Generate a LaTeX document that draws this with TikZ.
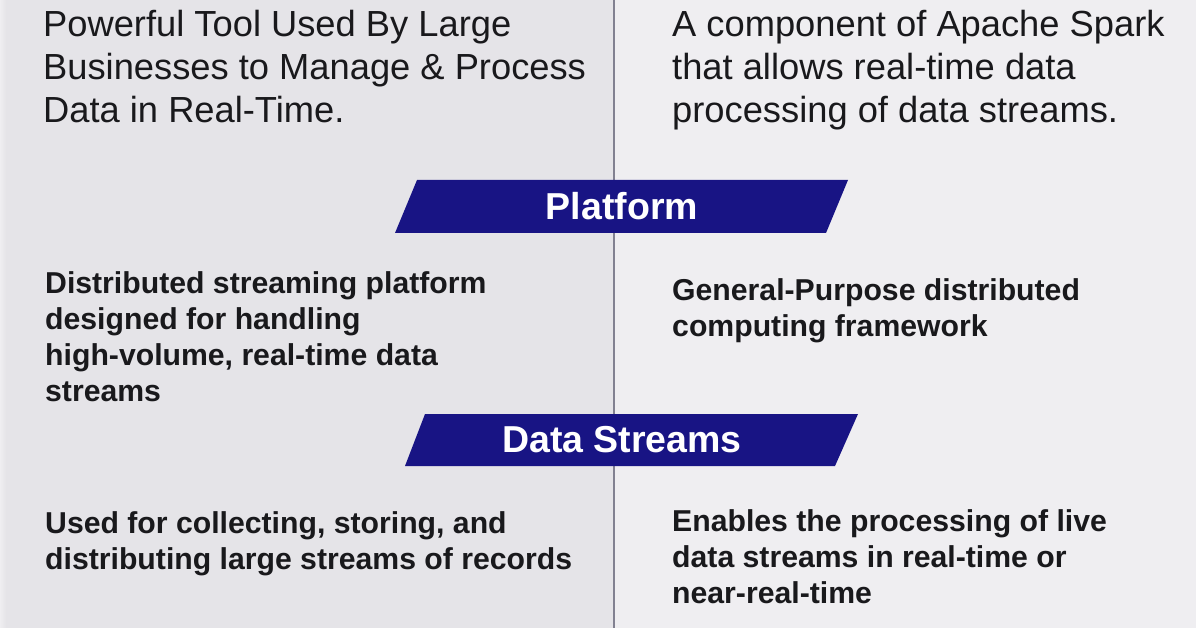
\documentclass[tikz,border=0pt]{standalone}
\usepackage{fontspec}
\setmainfont{Liberation Sans}
\definecolor{navy}{RGB}{24,20,132}
\definecolor{leftbg}{RGB}{229,228,232}
\definecolor{rightbg}{RGB}{239,238,241}
\definecolor{divider}{RGB}{130,129,145}
\definecolor{txt}{RGB}{25,25,28}
\tikzset{
  headtext/.style={anchor=north west, inner sep=0pt, align=left, text=txt,
    font=\fontsize{36.3}{43}\selectfont},
  bodytext/.style={anchor=north west, inner sep=0pt, align=left, text=txt,
    font=\fontsize{30.2}{36}\selectfont\bfseries},
  bannertext/.style={anchor=center, inner sep=0pt, text=white,
    font=\fontsize{37.5}{40}\selectfont\bfseries},
  banner/.style={fill=navy, draw=none}
}
\begin{document}
\begin{tikzpicture}[x=1pt,y=-1pt]
\useasboundingbox (0,0) rectangle (1196,628);
% backgrounds
\fill[leftbg] (0,0) rectangle (614,628);
\fill[rightbg] (614,0) rectangle (1196,628);
\fill[left color=rightbg, right color=leftbg] (0,0) rectangle (6,628);
% divider
\draw[divider, line width=2pt] (614,0) -- (614,628);
% banners
\fill[banner] (417,180) -- (848,180) -- (826,233) -- (395,233) -- cycle;
\node[bannertext] (platform) at (622,206) {Platform};
\fill[banner] (425,414) -- (858,414) -- (835,466) -- (405,466) -- cycle;
\node[bannertext] (streams) at (622,440) {Data Streams};
% top texts
\node[headtext] (kafkaintro) at (43,10) {Powerful Tool Used By Large\\Businesses to Manage \& Process\\Data in Real-Time.};
\node[headtext] (sparkintro) at (672,10) {A component of Apache Spark\\that allows real-time data\\processing of data streams.};
% platform texts
\node[bodytext] (kafkaplat) at (45,271) {Distributed streaming platform\\designed for handling\\high-volume, real-time data\\streams};
\node[bodytext] (sparkplat) at (672,278) {General-Purpose distributed\\computing framework};
% data streams texts
\node[bodytext] (kafkads) at (45,511) {Used for collecting, storing, and\\distributing large streams of records};
\node[bodytext] (sparkds) at (672,509) {Enables the processing of live\\data streams in real-time or\\near-real-time};
\end{tikzpicture}
\end{document}
